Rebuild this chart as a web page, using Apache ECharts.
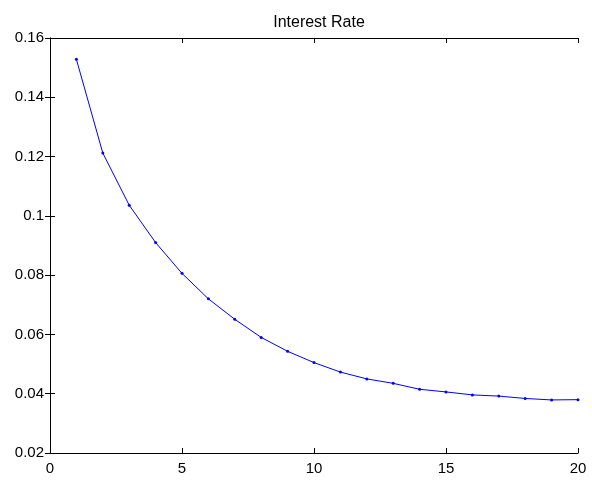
<!DOCTYPE html>
<html>
<head>
<meta charset="utf-8">
<script src="https://cdn.jsdelivr.net/npm/echarts@6/dist/echarts.min.js"></script>
<style>html,body{margin:0;padding:0;background:#fff}#c{width:592px;height:484px}</style>
</head>
<body>
<div id="c"></div>
<script>
var titleText = 'Interest Rate';
var periods = [1,2,3,4,5,6,7,8,9,10,11,12,13,14,15,16,17,18,19,20];
var rates = [0.1528,0.1212,0.1036,0.0910,0.0806,0.0720,0.0651,0.0590,0.0543,0.0505,0.0473,0.0450,0.0435,0.0415,0.0406,0.0396,0.0392,0.0384,0.0379,0.0380];
var xTicks = {min:0, max:20, interval:5};
var yTicks = {min:0.02, max:0.16, interval:0.02};

var chart = echarts.init(document.getElementById('c'), null, {renderer:'canvas'});
var font = 'Liberation Sans, Arial, Helvetica, sans-serif';
var axisLine = {show:true, lineStyle:{color:'#000', width:1}};
var tick = {show:true, inside:true, length:5, lineStyle:{color:'#000', width:1}};
function fmt(v){ return String(Number(v.toFixed(2))); }
var pairs = periods.map(function(p,i){ return [p, rates[i]]; });
chart.setOption({
  animation:false,
  backgroundColor:'#fff',
  title:{text:titleText, left:314, textAlign:'center', top:10,
    textStyle:{fontFamily:font, fontSize:16, fontWeight:'normal', color:'#000'}},
  grid:{left:50, right:14, top:38, bottom:31, containLabel:false},
  xAxis:[
    {type:'value', position:'bottom', min:xTicks.min, max:xTicks.max, interval:xTicks.interval,
     axisLine:axisLine, axisTick:tick, splitLine:{show:false},
     axisLabel:{show:true, color:'#000', fontFamily:font, fontSize:15, margin:8, formatter:fmt}},
    {type:'value', position:'top', min:xTicks.min, max:xTicks.max, interval:xTicks.interval,
     axisLine:axisLine, axisTick:tick, splitLine:{show:false}, axisLabel:{show:false}}
  ],
  yAxis:[
    {type:'value', position:'left', min:yTicks.min, max:yTicks.max, interval:yTicks.interval,
     axisLine:axisLine, axisTick:tick, splitLine:{show:false},
     axisLabel:{show:true, color:'#000', fontFamily:font, fontSize:15, margin:6, formatter:fmt}},
    {type:'value', position:'right', min:yTicks.min, max:yTicks.max, interval:yTicks.interval,
     axisLine:axisLine, axisTick:tick, splitLine:{show:false}, axisLabel:{show:false}}
  ],
  series:[{
    type:'line', xAxisIndex:0, yAxisIndex:0, data:pairs,
    symbol:'circle', symbolSize:3, showSymbol:true,
    lineStyle:{color:'#0000ff', width:1},
    itemStyle:{color:'#0000ff', borderWidth:0}
  }]
});
</script>
</body>
</html>
